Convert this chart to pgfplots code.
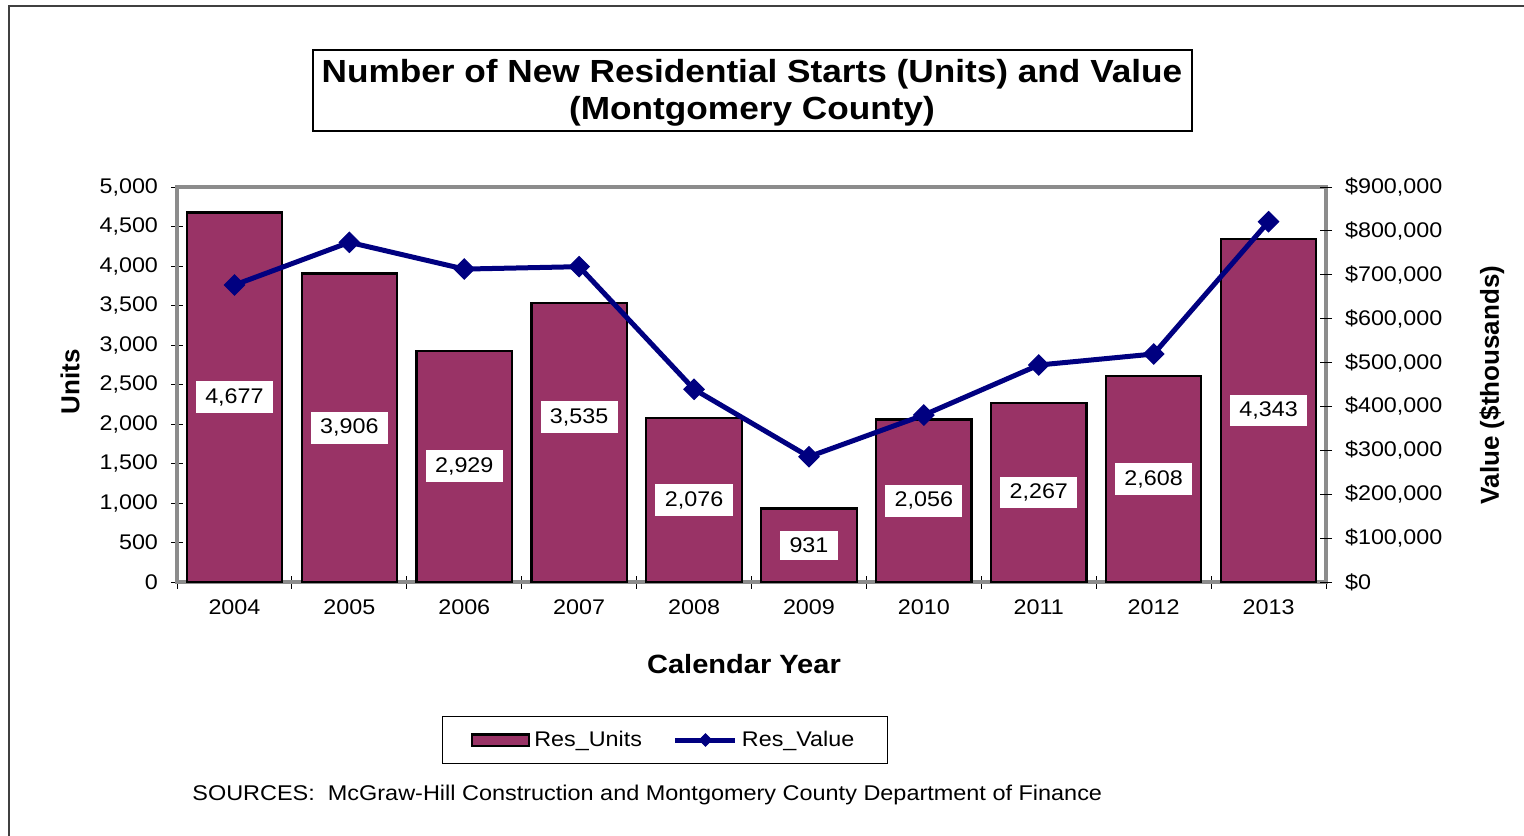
\documentclass[border=0pt]{standalone}
\usepackage{pgfplots}
\pgfplotsset{compat=1.18}
\usepackage{pgfplotstable}
\usepackage{fontspec}
\setmainfont{Liberation Sans}[FakeStretch=1.1]
\newfontfamily\vfont{Liberation Sans}
\definecolor{barc}{HTML}{993366}
\definecolor{linec}{HTML}{000080}
\definecolor{axgray}{HTML}{8C8C8C}
\definecolor{framec}{HTML}{404040}

% x, units, value ($thousands), label position (units axis)
\pgfplotstableread{
x u v ly
0 4677 676700 2338.5
1 3906 774000 1953
2 2929 713000 1464.5
3 3535 718500 2089
4 2076 439100 1038
5 931 285500 465.5
6 2056 380500 1028
7 2267 494400 1133.5
8 2608 519500 1304
9 4343 821000 2171.5
}\data

\newcommand{\tf}{\fontsize{10.6bp}{12.6bp}\selectfont}

\pgfplotsset{
  myaxis/.style={
    scale only axis, width=574.5bp, height=197.5bp,
    at={(88.5bp,-291bp)}, anchor=south west,
    xmin=-0.5, xmax=9.5,
    tick align=center,
    major tick length=6bp,
    minor tick length=6.5bp,
    every tick/.style={black, line width=0.5bp},
    /pgf/number format/assume math mode=true,
    /pgf/number format/1000 sep={,},
    ticklabel style={font=\tf},
  },
  lineleg/.style={legend image code/.code={\draw[mark repeat=2, mark phase=2, ##1, mark size=2.2bp] plot coordinates {(0bp,0bp) (15bp,0bp) (30bp,0bp)};}},
  barleg/.style={legend image code/.code={\draw[fill=barc, draw=black, line width=1.1bp] (0bp,-2.8bp) rectangle (28.5bp,2.8bp);}},
}

\begin{document}
\begin{tikzpicture}
\useasboundingbox (0,0) rectangle (762bp,-418bp);
\begin{scope}[x=0.5bp, y=-0.5bp]
  \draw[framec, line width=0.6bp] (9,840) -- (9,6) -- (1530,6);
  \draw[black, line width=1.2bp] (313,50) rectangle (1192,131);
  \node[anchor=base, inner sep=0, font=\fontsize{16bp}{19bp}\selectfont\bfseries] at (752,83) {Number of New Residential Starts (Units) and Value};
  \node[anchor=base, inner sep=0, font=\fontsize{16bp}{19bp}\selectfont\bfseries] at (752,120) {(Montgomery County)};
  \node[rotate=90, inner sep=0, font=\vfont\fontsize{13bp}{15bp}\selectfont\bfseries] at (70,382) {Units};
  \node[rotate=90, inner sep=0, font=\vfont\fontsize{13bp}{15bp}\selectfont\bfseries] at (1492,385) {Value (\$thousands)};
  \node[inner sep=0, font=\fontsize{13.2bp}{15bp}\selectfont\bfseries] at (744,664) {Calendar Year};
  \node[anchor=base west, inner sep=0, font=\fontsize{10.66bp}{12.6bp}\selectfont] at (192,801) {SOURCES:\ \ McGraw-Hill Construction and Montgomery County Department of Finance};
\end{scope}

\begin{axis}[myaxis,
  ymin=0, ymax=5000,
  ytick={0,500,...,5000},
  ytick pos=left, xtick pos=bottom,
  xtick={0,...,9},
  xticklabels={2004,2005,2006,2007,2008,2009,2010,2011,2012,2013},
  major x tick style={draw=none},
  minor xtick={-0.5,0.5,...,9.5},
  xticklabel style={yshift=-2.5bp},
  yticklabel style={xshift=-3bp},
  axis line style={axgray, line width=2bp},
]
\addplot[ybar, bar width=0.83, fill=barc, draw=black, line width=1.1bp] table[x=x, y=u]{\data};
\addplot[draw=none, mark=none, nodes near coords, point meta=explicit,
  every node near coord/.append style={fill=white, inner xsep=4.7bp, inner ysep=3.6bp, anchor=center, font=\tf, text=black}]
  table[x=x, y=ly, meta=u]{\data};
\end{axis}

\begin{axis}[myaxis,
  ymin=0, ymax=900000,
  ytick={0,100000,...,900000},
  ytick pos=right,
  hide x axis,
  axis line style={draw=none},
  scaled y ticks=false,
  yticklabel={\$\pgfmathprintnumber[fixed, precision=0]{\tick}},
  yticklabel style={xshift=3bp},
  legend columns=2,
  legend style={at={(0.4245,-0.40)}, anchor=center, draw=black, line width=0.6bp,
    font=\tf, inner xsep=14.5bp, inner ysep=5.3bp,
    /tikz/every even column/.append style={column sep=13.5bp}},
]
\addlegendimage{barleg}
\addlegendentry{Res\_Units}
\addplot[linec, line width=2.5bp, mark=square*, mark size=3.6bp,
  mark options={rotate=45, line width=0.5bp, fill=linec, draw=linec}, lineleg]
  table[x=x, y=v]{\data};
\addlegendentry{Res\_Value}
\end{axis}
\end{tikzpicture}
\end{document}
